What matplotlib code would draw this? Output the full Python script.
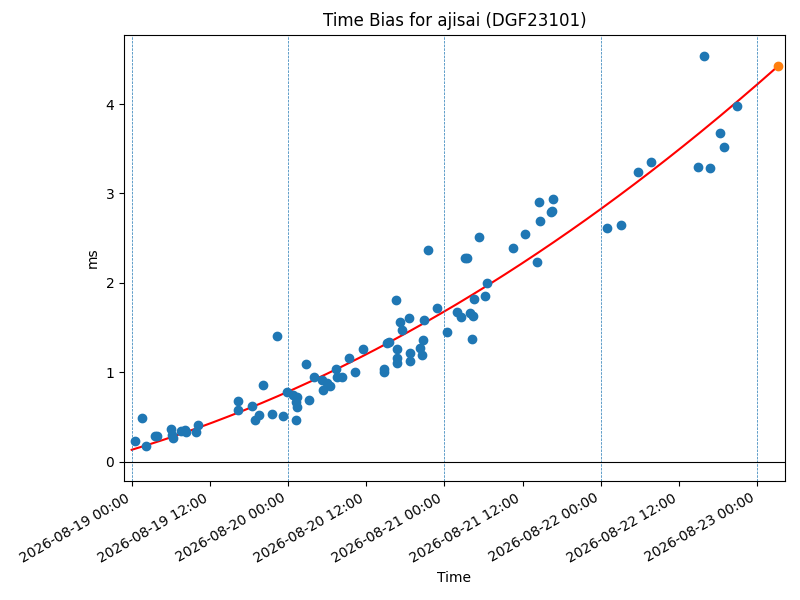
import datetime as dt

import matplotlib
matplotlib.use("Agg")
import matplotlib.pyplot as plt
import matplotlib.dates as mdates
import numpy as np

# observation times, hours after 2026-08-19 00:00
hours = [
    0.51, 1.63, 2.19, 3.58, 3.93, 5.99, 6.29, 6.18, 7.57, 8.18,
    8.33, 9.87, 10.22, 16.27, 16.36, 18.51, 18.92, 19.53, 20.19, 21.58,
    22.34, 23.26, 23.78, 24.80, 25.32, 25.25, 25.32, 25.17, 26.79, 27.25,
    27.97, 29.16, 29.31, 30.01, 30.43, 31.35, 31.46, 32.22, 33.34, 34.27,
    35.54, 38.72, 38.78, 39.13, 39.53, 40.56, 40.66, 40.66, 40.66, 41.22,
    41.55, 42.60, 42.71, 42.78, 44.19, 44.62, 44.75, 44.88, 45.51, 46.85,
    48.43, 49.92, 50.58, 51.22, 51.41, 51.91, 52.42, 52.27, 52.57, 53.29,
    54.26, 54.57, 58.56, 60.35, 62.24, 62.65, 62.45, 64.30, 64.45, 64.69,
    72.98, 75.13, 77.74, 79.69, 86.95, 87.87, 88.79, 90.32, 90.94, 92.93,
]
# time bias, ms
bias = [
    0.231, 0.482, 0.171, 0.283, 0.283, 0.362, 0.258, 0.295, 0.339, 0.358,
    0.325, 0.325, 0.406, 0.675, 0.582, 0.619, 0.462, 0.526, 0.854, 0.530,
    1.403, 0.511, 0.779, 0.742, 0.723, 0.667, 0.611, 0.462, 1.090, 0.694,
    0.944, 0.910, 0.798, 0.880, 0.843, 1.030, 0.941, 0.941, 1.153, 0.997,
    1.254, 1.041, 1.003, 1.330, 1.342, 1.803, 1.263, 1.162, 1.101, 1.557,
    1.467, 1.605, 1.213, 1.123, 1.265, 1.190, 1.356, 1.580, 2.366, 1.719,
    1.445, 1.672, 1.619, 2.273, 2.273, 1.657, 1.627, 1.366, 1.817, 2.508,
    1.851, 1.993, 2.385, 2.545, 2.228, 2.694, 2.907, 2.795, 2.806, 2.934,
    2.609, 2.646, 3.236, 3.348, 3.296, 4.539, 3.284, 3.673, 3.516, 3.975,
]
predict_hour = 99.17
day_lines = [0, 24, 48, 72, 96]

base = dt.datetime(2026, 8, 19)
t = np.array(hours)
y = np.array(bias)
times = [base + dt.timedelta(hours=h) for h in hours]

# quadratic fit, drawn from day start to prediction time
coef = np.polyfit(t, y, 2)
fit_t = np.linspace(0, predict_hour, 200)
fit_times = [base + dt.timedelta(hours=h) for h in fit_t]
pred_time = base + dt.timedelta(hours=predict_hour)

fig, ax = plt.subplots(figsize=(8, 6), dpi=100)
fig.subplots_adjust(left=0.155, right=0.981, top=0.942, bottom=0.198)

ax.scatter(times, y, color='C0', zorder=3)
ax.plot(fit_times, np.polyval(coef, fit_t), color='red', linewidth=1.5)
ax.scatter([pred_time], [np.polyval(coef, predict_hour)], color='C1', zorder=3)

for h in day_lines:
    ax.axvline(base + dt.timedelta(hours=h), color='C0', linestyle='--', linewidth=0.5)
ax.axhline(0, color='black', linewidth=0.8)

ax.set_xlim(base - dt.timedelta(hours=1.18), base + dt.timedelta(hours=100.25))
ax.set_ylim(-0.22, 4.775)
ax.xaxis.set_major_locator(mdates.HourLocator(byhour=[0, 12]))
ax.xaxis.set_major_formatter(mdates.DateFormatter('%Y-%m-%d %H:%M'))
plt.setp(ax.get_xticklabels(), rotation=30, ha='right')

ax.set_title('Time Bias for ajisai (DGF23101)')
ax.set_xlabel('Time')
ax.set_ylabel('ms')

plt.savefig('out.png', dpi=100)
